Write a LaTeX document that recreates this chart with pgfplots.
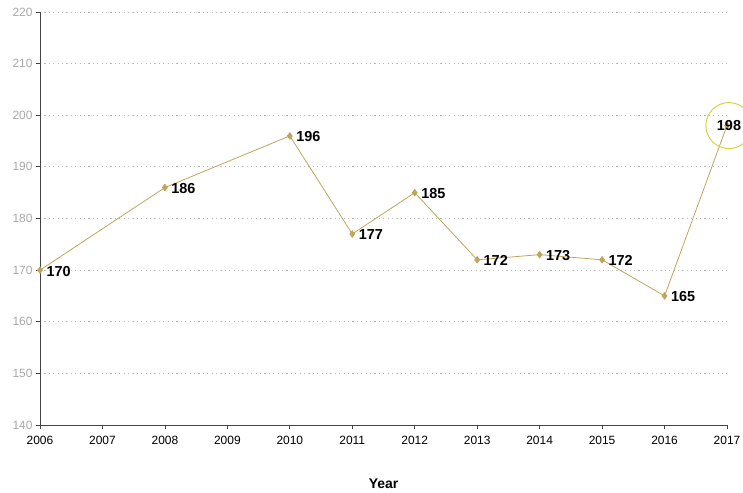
\documentclass[border=0pt]{standalone}
\usepackage{pgfplots}
\pgfplotsset{compat=1.18}
\usepackage{fontspec}
\setmainfont{Liberation Sans}
\definecolor{linec}{HTML}{BFA55A}
\definecolor{circc}{HTML}{DCD23C}
\definecolor{gridc}{HTML}{BBBBBB}
\definecolor{ytickc}{HTML}{A8A8A8}
\definecolor{axisc}{HTML}{444444}
\begin{document}
\begin{tikzpicture}
\path[use as bounding box] (-40bp,-68bp) rectangle (703bp,425bp);
\begin{axis}[
  at={(0,0)}, anchor=south west,
  scale only axis,
  width=687bp, height=413bp,
  xmin=2006, xmax=2017, ymin=140, ymax=220,
  xtick={2006,2007,2008,2009,2010,2011,2012,2013,2014,2015,2016,2017},
  ytick={140,150,160,170,180,190,200,210,220},
  axis x line*=bottom, axis y line*=left,
  axis line style={axisc, line width=0.8pt},
  tick align=outside,
  major tick length=4bp,
  tick style={axisc, line width=0.8pt},
  /pgf/number format/assume math mode=true,
  /pgf/number format/1000 sep={},
  x tick label style={font=\fontsize{12}{14}\selectfont, text=black, yshift=-4bp},
  y tick label style={font=\fontsize{12}{14}\selectfont, text=ytickc},
  ymajorgrids,
  grid style={gridc, dash pattern=on 1.2bp off 3.2bp, line width=0.8pt},
  xlabel={Year},
  xlabel style={font=\bfseries\fontsize{14}{16}\selectfont, yshift=-27bp},
  clip=false,
]
\addplot[linec, line width=0.8pt, mark=diamond*, mark size=3.2bp, mark options={fill=linec, draw=linec}]
  coordinates {(2006,170) (2008,186) (2010,196) (2011,177) (2012,185) (2013,172) (2014,173) (2015,172) (2016,165) (2017,198)};
\addplot[draw=none, only marks, mark=none, nodes near coords, point meta=explicit symbolic,
  nodes near coords style={anchor=west, xshift=3bp, yshift=-1bp, font=\bfseries\fontsize{14.5}{16}\selectfont, text=black}]
  coordinates {(2006,170)[170] (2008,186)[186] (2010,196)[196] (2011,177)[177] (2012,185)[185] (2013,172)[172] (2014,173)[173] (2015,172)[172] (2016,165)[165]};
\addplot[draw=none, only marks, mark=none, nodes near coords, point meta=explicit symbolic,
  nodes near coords style={anchor=center, xshift=2bp, font=\bfseries\fontsize{14.5}{16}\selectfont, text=black}]
  coordinates {(2017,198)[198]};
\addplot[only marks, mark=o, mark size=23bp, mark options={draw=circc, line width=1pt}]
  coordinates {(2017.03,198)};
\end{axis}
\end{tikzpicture}
\end{document}
